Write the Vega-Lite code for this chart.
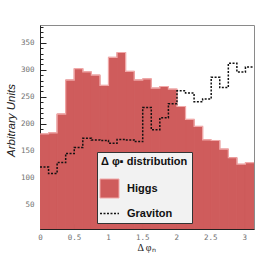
{
  "$schema": "https://vega.github.io/schema/vega-lite/v6.json",
  "width": 214,
  "height": 204,
  "autosize": {"type": "none"},
  "padding": {"left": 40, "top": 25, "right": 14, "bottom": 26},
  "background": "white",
  "config": {
    "view": {"stroke": "#8a8a8a", "strokeWidth": 1},
    "axis": {"grid": false, "zindex": 1}
  },
  "data": {
    "values": [
      {"series": "Higgs", "x0": 0.0, "x1": 0.1257, "v": 181},
      {"series": "Higgs", "x0": 0.1257, "x1": 0.2513, "v": 183},
      {"series": "Higgs", "x0": 0.2513, "x1": 0.377, "v": 218},
      {"series": "Higgs", "x0": 0.377, "x1": 0.5027, "v": 281},
      {"series": "Higgs", "x0": 0.5027, "x1": 0.6283, "v": 302},
      {"series": "Higgs", "x0": 0.6283, "x1": 0.754, "v": 296},
      {"series": "Higgs", "x0": 0.754, "x1": 0.8796, "v": 290},
      {"series": "Higgs", "x0": 0.8796, "x1": 1.0053, "v": 271},
      {"series": "Higgs", "x0": 1.0053, "x1": 1.131, "v": 323},
      {"series": "Higgs", "x0": 1.131, "x1": 1.2566, "v": 332},
      {"series": "Higgs", "x0": 1.2566, "x1": 1.3823, "v": 297},
      {"series": "Higgs", "x0": 1.3823, "x1": 1.508, "v": 281},
      {"series": "Higgs", "x0": 1.508, "x1": 1.6336, "v": 283},
      {"series": "Higgs", "x0": 1.6336, "x1": 1.7593, "v": 266},
      {"series": "Higgs", "x0": 1.7593, "x1": 1.885, "v": 269},
      {"series": "Higgs", "x0": 1.885, "x1": 2.0106, "v": 264},
      {"series": "Higgs", "x0": 2.0106, "x1": 2.1363, "v": 232},
      {"series": "Higgs", "x0": 2.1363, "x1": 2.2619, "v": 208},
      {"series": "Higgs", "x0": 2.2619, "x1": 2.3876, "v": 195},
      {"series": "Higgs", "x0": 2.3876, "x1": 2.5133, "v": 170},
      {"series": "Higgs", "x0": 2.5133, "x1": 2.6389, "v": 169},
      {"series": "Higgs", "x0": 2.6389, "x1": 2.7646, "v": 153},
      {"series": "Higgs", "x0": 2.7646, "x1": 2.8903, "v": 137},
      {"series": "Higgs", "x0": 2.8903, "x1": 3.0159, "v": 125},
      {"series": "Higgs", "x0": 3.0159, "x1": 3.1416, "v": 128},
      {"series": "Higgs", "x0": 3.1416, "x1": null, "v": 128},
      {"series": "Graviton", "x0": 0.0, "x1": 0.1257, "v": 120},
      {"series": "Graviton", "x0": 0.1257, "x1": 0.2513, "v": 108},
      {"series": "Graviton", "x0": 0.2513, "x1": 0.377, "v": 128},
      {"series": "Graviton", "x0": 0.377, "x1": 0.5027, "v": 145},
      {"series": "Graviton", "x0": 0.5027, "x1": 0.6283, "v": 156},
      {"series": "Graviton", "x0": 0.6283, "x1": 0.754, "v": 173},
      {"series": "Graviton", "x0": 0.754, "x1": 0.8796, "v": 170},
      {"series": "Graviton", "x0": 0.8796, "x1": 1.0053, "v": 169},
      {"series": "Graviton", "x0": 1.0053, "x1": 1.131, "v": 164},
      {"series": "Graviton", "x0": 1.131, "x1": 1.2566, "v": 171},
      {"series": "Graviton", "x0": 1.2566, "x1": 1.3823, "v": 170},
      {"series": "Graviton", "x0": 1.3823, "x1": 1.508, "v": 167},
      {"series": "Graviton", "x0": 1.508, "x1": 1.6336, "v": 230},
      {"series": "Graviton", "x0": 1.6336, "x1": 1.7593, "v": 189},
      {"series": "Graviton", "x0": 1.7593, "x1": 1.885, "v": 211},
      {"series": "Graviton", "x0": 1.885, "x1": 2.0106, "v": 237},
      {"series": "Graviton", "x0": 2.0106, "x1": 2.1363, "v": 261},
      {"series": "Graviton", "x0": 2.1363, "x1": 2.2619, "v": 257},
      {"series": "Graviton", "x0": 2.2619, "x1": 2.3876, "v": 241},
      {"series": "Graviton", "x0": 2.3876, "x1": 2.5133, "v": 246},
      {"series": "Graviton", "x0": 2.5133, "x1": 2.6389, "v": 286},
      {"series": "Graviton", "x0": 2.6389, "x1": 2.7646, "v": 267},
      {"series": "Graviton", "x0": 2.7646, "x1": 2.8903, "v": 312},
      {"series": "Graviton", "x0": 2.8903, "x1": 3.0159, "v": 296},
      {"series": "Graviton", "x0": 3.0159, "x1": 3.1416, "v": 305},
      {"series": "Graviton", "x0": 3.1416, "x1": null, "v": 305}
    ]
  },
  "resolve": {"axis": {"x": "independent", "y": "independent"}},
  "layer": [
    {
      "transform": [{"filter": "datum.series === 'Higgs' && datum.x1 != null"}],
      "mark": {"type": "rect", "clip": true, "stroke": "#cf5c5c", "strokeWidth": 1},
      "encoding": {
        "x": {
          "field": "x0", "type": "quantitative",
          "scale": {"domain": [0, 3.1416], "nice": false, "zero": false},
          "axis": {
            "orient": "bottom", "values": [0, 0.5, 1, 1.5, 2, 2.5, 3], "format": "~g",
            "ticks": false, "domain": true, "domainColor": "#222", "domainWidth": 1,
            "labelFont": "DejaVu Sans Mono", "labelFontSize": 7.5, "labelColor": "#707070", "labelPadding": 4,
            "labelFlush": false,
            "title": "Δ φₙ", "titleFont": "Liberation Serif", "titleFontSize": 10, "titleFontWeight": "normal",
            "titleColor": "#222", "titleBaseline": "alphabetic", "titleY": 21, "titleX": 106, "titleAlign": "center"
          }
        },
        "x2": {"field": "x1"},
        "y": {
          "field": "v", "type": "quantitative",
          "scale": {"domain": [5, 383], "nice": false, "zero": false},
          "axis": {
            "orient": "left", "values": [50, 100, 150, 200, 250, 300, 350], "format": "d",
            "ticks": false, "domain": true, "domainColor": "#222", "domainWidth": 1,
            "labelFont": "DejaVu Sans Mono", "labelFontSize": 7.5, "labelColor": "#707070", "labelPadding": 6,
            "labelFlush": false,
            "title": "Arbitrary Units", "titleFont": "Liberation Sans", "titleFontSize": 11.5, "titleFontStyle": "italic",
            "titleFontWeight": "normal", "titleColor": "#222", "titleAngle": -90, "titleBaseline": "alphabetic",
            "titleAlign": "center", "titleX": -26, "titleY": 95
          }
        },
        "y2": {"datum": 0},
        "color": {
          "field": "series", "type": "nominal",
          "scale": {"domain": ["Higgs", "Graviton"], "range": ["#cf5c5c", "#111111"]},
          "legend": {
            "orient": "none", "legendX": 57, "legendY": 127, "zindex": 2,
            "title": "Δ φ▪ distribution\u00a0\u00a0\u00a0\u00a0\u00a0",
            "fillColor": "#f2f2f2", "strokeColor": "#333", "padding": 4,
            "titleFont": "Liberation Sans", "titleFontSize": 11, "titleFontWeight": "bold", "titleColor": "#111",
            "titlePadding": 16,
            "labelFont": "Liberation Sans", "labelFontSize": 11, "labelFontWeight": "bold", "labelColor": "#111",
            "labelOffset": 12, "symbolOffset": 3, "symbolSize": 361, "rowPadding": 7,
            "symbolType": {"expr": "datum.value === 'Higgs' ? 'square' : 'stroke'"},
            "symbolStrokeColor": {"expr": "datum.value === 'Higgs' ? '#f0a8a8' : '#111111'"},
            "symbolDash": {"expr": "datum.value === 'Higgs' ? [1, 0] : [2, 1.5]"},
            "symbolStrokeWidth": {"expr": "datum.value === 'Higgs' ? 1 : 1.5"},
            "symbolOpacity": 1
          }
        }
      }
    },
    {
      "transform": [{"filter": "datum.series === 'Higgs'"}],
      "mark": {"type": "line", "interpolate": "step-after", "color": "#f0a8a8", "strokeWidth": 1.2, "clip": true},
      "encoding": {
        "x": {
          "field": "x0", "type": "quantitative",
          "axis": {
            "orient": "bottom", "values": [0, 0.5, 1, 1.5, 2, 2.5, 3], "labels": false, "domain": false,
            "ticks": true, "tickSize": -5, "tickColor": "#222", "title": null
          }
        },
        "y": {
          "field": "v", "type": "quantitative",
          "axis": {
            "orient": "left", "values": [50, 100, 150, 200, 250, 300, 350], "labels": false, "domain": false,
            "ticks": true, "tickSize": -6, "tickColor": "#222", "title": null
          }
        }
      }
    },
    {
      "transform": [{"filter": "datum.series === 'Graviton'"}],
      "mark": {"type": "line", "interpolate": "step-after", "color": "#111111", "strokeWidth": 1.5, "strokeDash": [2, 1.5], "clip": true},
      "encoding": {
        "x": {
          "field": "x0", "type": "quantitative",
          "axis": {
            "orient": "bottom",
            "values": [0.1, 0.2, 0.3, 0.4, 0.6, 0.7, 0.8, 0.9, 1.1, 1.2, 1.3, 1.4, 1.6, 1.7, 1.8, 1.9, 2.1, 2.2, 2.3, 2.4, 2.6, 2.7, 2.8, 2.9, 3.1],
            "labels": false, "domain": false, "ticks": true, "tickSize": -2.5, "tickColor": "#222", "title": null
          }
        },
        "y": {
          "field": "v", "type": "quantitative",
          "axis": {
            "orient": "left",
            "values": [10, 20, 30, 40, 60, 70, 80, 90, 110, 120, 130, 140, 160, 170, 180, 190, 210, 220, 230, 240, 260, 270, 280, 290, 310, 320, 330, 340, 360, 370, 380],
            "labels": false, "domain": false, "ticks": true, "tickSize": -3, "tickColor": "#222", "title": null
          }
        }
      }
    }
  ]
}
